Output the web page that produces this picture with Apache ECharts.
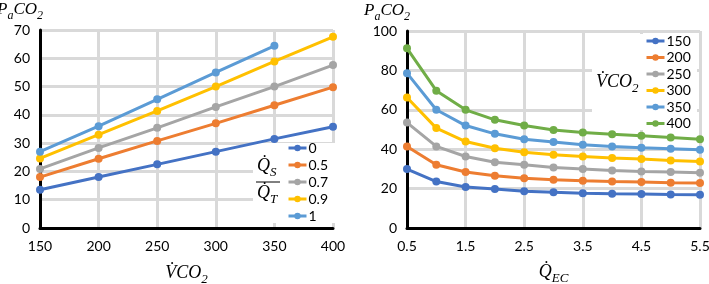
<!DOCTYPE html>
<html>
<head>
<meta charset="utf-8">
<script src="https://cdn.jsdelivr.net/npm/echarts@6/dist/echarts.min.js"></script>
<style>html,body{margin:0;padding:0;background:#fff}#main{width:709px;height:284px}</style>
</head>
<body>
<div id="main"></div>
<script>
// left panel: PaCO2 vs VCO2 for several shunt fractions
var vco2Ticks = [150, 200, 250, 300, 350, 400];
var shuntNames = ['0', '0.5', '0.7', '0.9', '1'];
var shunt0 = [13.5, 18, 22.5, 27, 31.5, 35.8];
var shunt05 = [18, 24.5, 30.8, 37, 43.4, 49.8];
var shunt07 = [20.9, 28.3, 35.4, 42.8, 50, 57.6];
var shunt09 = [24.6, 33, 41.4, 50, 58.9, 67.6];
var shunt1 = [27, 36, 45.5, 55, 64.4];

// right panel: PaCO2 vs QEC for several VCO2
var qecCats = ['0.5', '1', '1.5', '2', '2.5', '3', '3.5', '4', '4.5', '5', '5.5'];
var vco2Names = ['150', '200', '250', '300', '350', '400'];
var v150 = [29.9, 23.6, 20.8, 19.8, 18.7, 18.2, 17.7, 17.4, 17.3, 17.0, 16.9];
var v200 = [41.4, 32.1, 28.4, 26.5, 25.3, 24.5, 24.0, 23.6, 23.3, 23.0, 22.8];
var v250 = [53.5, 41.4, 36.3, 33.4, 32.1, 30.7, 29.9, 29.2, 28.7, 28.4, 28.0];
var v300 = [66.2, 50.7, 43.9, 40.5, 38.5, 37.2, 36.3, 35.5, 35.0, 34.3, 33.8];
var v350 = [78.6, 60.0, 52.0, 47.8, 45.1, 43.6, 42.2, 41.4, 40.7, 40.2, 39.7];
var v400 = [91.2, 69.7, 60.0, 54.9, 52.0, 49.8, 48.5, 47.6, 46.8, 45.9, 45.1];

var colors = ['#4472C4', '#ED7D31', '#A5A5A5', '#FFC000', '#5B9BD5', '#70AD47'];
var labelFont = 'Lato, "Open Sans", sans-serif';
var mathFont = '"Liberation Serif", "DejaVu Serif", serif';

var rich = {
    m: { fontFamily: mathFont, fontStyle: 'italic', fontSize: 18, color: '#000', verticalAlign: 'bottom', padding: [0, 0, 4, 0] },
    s: { fontFamily: mathFont, fontStyle: 'italic', fontSize: 13, color: '#000', verticalAlign: 'bottom' }
};
// slightly smaller for the y axis titles so they fit at the top left
var richY = {
    m: { fontFamily: mathFont, fontStyle: 'italic', fontSize: 17, color: '#000', verticalAlign: 'bottom', padding: [0, 0, 4, 0] },
    s: { fontFamily: mathFont, fontStyle: 'italic', fontSize: 12, color: '#000', verticalAlign: 'bottom' }
};

function pairs(ys) {
    return ys.map(function (y, i) { return [vco2Ticks[i], y]; });
}

var leftData = [shunt0, shunt05, shunt07, shunt09, shunt1];
var rightData = [v150, v200, v250, v300, v350, v400];

var series = [];
leftData.forEach(function (d, i) {
    series.push({
        name: shuntNames[i], type: 'line', xAxisIndex: 0, yAxisIndex: 0,
        data: pairs(d), symbol: 'circle', symbolSize: 8,
        lineStyle: { width: 3, color: colors[i] }, itemStyle: { color: colors[i] }
    });
});
rightData.forEach(function (d, i) {
    series.push({
        name: vco2Names[i], type: 'line', xAxisIndex: 1, yAxisIndex: 1,
        data: d, symbol: 'circle', symbolSize: 8,
        lineStyle: { width: 3, color: colors[i] }, itemStyle: { color: colors[i] }
    });
});

var axisLine = { show: true, onZero: false, lineStyle: { color: '#000', width: 3 } };
var splitLine = { show: true, lineStyle: { color: '#d9d9d9', width: 3 } };
var tickLabel = { color: '#000', fontFamily: labelFont, fontSize: 14 };
var legendText = { color: '#000', fontFamily: labelFont, fontSize: 14, padding: [0, 0, 0, -3] };

var chart = echarts.init(document.getElementById('main'));
var option = {
    animation: false,
    color: colors,
    grid: [
        { left: 40, right: 376, top: 30, bottom: 56, outerBoundsMode: 'none' },
        { left: 407, right: 9, top: 31, bottom: 56, outerBoundsMode: 'none' }
    ],
    xAxis: [{
        gridIndex: 0, type: 'value', min: 150, max: 400, interval: 50,
        axisLine: axisLine, axisTick: { show: false }, splitLine: splitLine,
        axisLabel: Object.assign({ margin: 11 }, tickLabel),
        name: '{m|V\u0307CO}{s|2}', nameLocation: 'middle', nameGap: 36,
        nameTextStyle: { rich: rich }
    }, {
        gridIndex: 1, type: 'category', data: qecCats, boundaryGap: false,
        axisLine: axisLine, axisTick: { show: false },
        splitLine: { show: true, interval: 1, lineStyle: { color: '#d9d9d9', width: 3 } },
        axisLabel: Object.assign({ margin: 11, interval: 1 }, tickLabel),
        name: '{m|Q\u0307}{s|EC}', nameLocation: 'middle', nameGap: 35,
        nameTextStyle: { rich: rich }
    }],
    yAxis: [{
        gridIndex: 0, type: 'value', min: 0, max: 70, interval: 10,
        axisLine: axisLine, axisTick: { show: false }, splitLine: splitLine,
        axisLabel: Object.assign({ margin: 10 }, tickLabel),
        name: '{m|P}{s|a}{m|CO}{s|2}', nameLocation: 'end', nameGap: 8,
        nameTextStyle: { rich: richY, align: 'right', verticalAlign: 'bottom', padding: [0, -3, 0, 0] }
    }, {
        gridIndex: 1, type: 'value', min: 0, max: 100, interval: 20,
        axisLine: axisLine, axisTick: { show: false }, splitLine: splitLine,
        axisLabel: Object.assign({ margin: 10 }, tickLabel),
        name: '{m|P}{s|a}{m|CO}{s|2}', nameLocation: 'end', nameGap: 8,
        nameTextStyle: { rich: richY, align: 'right', verticalAlign: 'bottom', padding: [0, -3, 0, 0] }
    }],
    legend: [{
        data: shuntNames, orient: 'vertical', left: 287, top: 141,
        itemWidth: 18, itemHeight: 8, itemGap: 3, padding: 0,
        lineStyle: { width: 3 }, textStyle: legendText
    }, {
        data: vco2Names, orient: 'vertical', left: 645, top: 34,
        itemWidth: 18, itemHeight: 8, itemGap: 2.5, padding: 0,
        lineStyle: { width: 3 }, textStyle: legendText
    }],
    graphic: [
        { type: 'rect', z: 1, shape: { x: 253, y: 143, width: 84, height: 80 }, style: { fill: '#fff' } },
        { type: 'rect', z: 1, shape: { x: 592, y: 34, width: 105, height: 96 }, style: { fill: '#fff' } },
        { type: 'text', z: 5, left: 257, top: 157, style: { text: '{m|Q\u0307}{s|S}', rich: rich } },
        { type: 'line', z: 5, shape: { x1: 256, y1: 182, x2: 280, y2: 182 }, style: { stroke: '#000', lineWidth: 1 } },
        { type: 'text', z: 5, left: 257, top: 184, style: { text: '{m|Q\u0307}{s|T}', rich: rich } },
        { type: 'text', z: 5, left: 596, top: 73, style: { text: '{m|V\u0307CO}{s|2}', rich: rich } }
    ],
    series: series
};
chart.setOption(option);
</script>
</body>
</html>
